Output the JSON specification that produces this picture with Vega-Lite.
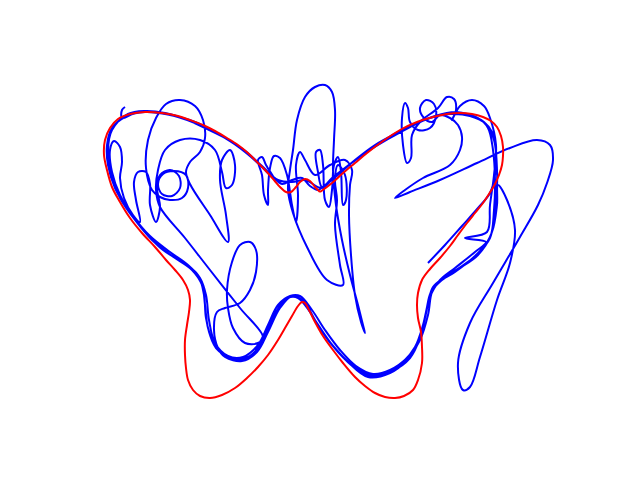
{
  "$schema": "https://vega.github.io/schema/vega-lite/v6.json",
  "description": "Butterfly-shaped target curve (red) and a tangled trajectory (blue), axes hidden",
  "width": 640,
  "height": 480,
  "padding": 0,
  "autosize": {"type": "fit", "contains": "padding"},
  "background": "white",
  "config": {"view": {"stroke": null}},
  "datasets": {
    "blue": [
      {"x":428,"y":263},{"x":445,"y":245},{"x":462,"y":226},{"x":478,"y":208},{"x":490,"y":193},{"x":495,"y":175},{"x":496,"y":150},{"x":492,"y":132},{"x":484,"y":122},{"x":470,"y":115},{"x":455,"y":112},{"x":435,"y":116},{"x":415,"y":124},{"x":395,"y":134},{"x":375,"y":145},{"x":355,"y":160},{"x":338,"y":175},{"x":325,"y":185},{"x":318,"y":190},{"x":310,"y":186},{"x":302,"y":178},{"x":292,"y":180},{"x":282,"y":184},{"x":272,"y":176},{"x":258,"y":163},{"x":240,"y":148},{"x":218,"y":134},{"x":195,"y":122},{"x":170,"y":115},{"x":145,"y":112},{"x":125,"y":117},{"x":112,"y":128},{"x":107,"y":145},{"x":108,"y":165},{"x":115,"y":188},{"x":128,"y":210},{"x":145,"y":232},{"x":163,"y":250},{"x":182,"y":262},{"x":198,"y":275},{"x":204,"y":295},{"x":206,"y":318},{"x":212,"y":340},{"x":225,"y":355},{"x":240,"y":360},{"x":255,"y":352},{"x":266,"y":335},{"x":276,"y":312},{"x":288,"y":298},{"x":298,"y":298},{"x":310,"y":312},{"x":322,"y":332},{"x":338,"y":352},{"x":355,"y":368},{"x":372,"y":376},{"x":388,"y":372},{"x":403,"y":362},{"x":415,"y":347},{"x":423,"y":325},{"x":428,"y":303},{"x":433,"y":287},{"x":445,"y":277},{"x":462,"y":266},{"x":480,"y":252},{"x":492,"y":232},{"x":497,"y":205},{"x":498,"y":185},
      {"x":507,"y":200},{"x":515,"y":230},{"x":510,"y":263},{"x":497,"y":300},{"x":480,"y":357},{"x":470,"y":387},{"x":463,"y":390},{"x":458,"y":363},{"x":470,"y":323},{"x":493,"y":283},{"x":520,"y":237},{"x":538,"y":205},{"x":547,"y":183},{"x":553,"y":160},{"x":550,"y":145},{"x":537,"y":140},{"x":510,"y":148},{"x":477,"y":163},{"x":440,"y":180},{"x":410,"y":192},{"x":395,"y":198},{"x":405,"y":190},{"x":423,"y":178},{"x":450,"y":165},{"x":460,"y":150},{"x":462,"y":137},{"x":458,"y":125},{"x":450,"y":118},{"x":440,"y":115},
      {"x":432,"y":122},{"x":424,"y":118},{"x":420,"y":108},{"x":426,"y":100},{"x":434,"y":104},{"x":436,"y":116},{"x":430,"y":128},{"x":418,"y":130},{"x":410,"y":122},{"x":408,"y":108},{"x":405,"y":103},{"x":402,"y":118},{"x":403,"y":145},{"x":407,"y":163},{"x":411,"y":158},{"x":412,"y":135},{"x":420,"y":122},{"x":438,"y":108},{"x":447,"y":97},{"x":454,"y":99},{"x":456,"y":110},{"x":452,"y":120},{"x":460,"y":106},{"x":472,"y":100},{"x":484,"y":106},{"x":490,"y":118},
      {"x":496,"y":145},{"x":494,"y":175},{"x":490,"y":205},{"x":487,"y":232},{"x":465,"y":238},{"x":486,"y":242},{"x":475,"y":252},{"x":455,"y":268},{"x":440,"y":280},{"x":432,"y":292},{"x":428,"y":315},{"x":420,"y":340},{"x":408,"y":357},{"x":390,"y":370},{"x":373,"y":374},{"x":356,"y":366},{"x":340,"y":350},{"x":325,"y":330},{"x":312,"y":310},{"x":300,"y":296},{"x":290,"y":296},{"x":278,"y":305},{"x":268,"y":325},{"x":258,"y":345},{"x":243,"y":357},{"x":228,"y":356},{"x":215,"y":343},{"x":209,"y":320},{"x":206,"y":295},{"x":200,"y":278},{"x":188,"y":265},{"x":170,"y":252},{"x":150,"y":236},{"x":133,"y":216},{"x":120,"y":195},{"x":112,"y":172},{"x":110,"y":150},
      {"x":114,"y":141},{"x":120,"y":147},{"x":122,"y":162},{"x":120,"y":178},{"x":124,"y":198},{"x":133,"y":215},{"x":140,"y":222},{"x":136,"y":200},{"x":134,"y":182},{"x":138,"y":172},{"x":146,"y":172},{"x":150,"y":184},{"x":150,"y":205},{"x":156,"y":222},{"x":160,"y":207},{"x":157,"y":188},{"x":160,"y":175},{"x":170,"y":170},{"x":179,"y":176},{"x":180,"y":188},{"x":172,"y":196},{"x":162,"y":194},{"x":158,"y":184},{"x":163,"y":174},{"x":174,"y":171},{"x":186,"y":175},{"x":188,"y":188},{"x":182,"y":198},{"x":170,"y":200},{"x":160,"y":197},{"x":152,"y":190},{"x":146,"y":168},{"x":148,"y":140},{"x":156,"y":118},{"x":166,"y":104},{"x":180,"y":100},{"x":195,"y":106},{"x":203,"y":120},{"x":205,"y":138},{"x":200,"y":152},{"x":190,"y":162},{"x":186,"y":172},{"x":190,"y":184},{"x":210,"y":215},{"x":228,"y":242},{"x":226,"y":215},{"x":220,"y":180},{"x":222,"y":160},{"x":230,"y":150},{"x":235,"y":165},{"x":232,"y":185},{"x":226,"y":188},{"x":222,"y":172},{"x":215,"y":150},{"x":200,"y":140},{"x":180,"y":140},{"x":165,"y":150},{"x":158,"y":170},{"x":156,"y":190},{"x":160,"y":207},{"x":185,"y":238},{"x":210,"y":270},{"x":240,"y":308},{"x":263,"y":337},{"x":258,"y":343},{"x":245,"y":343},{"x":233,"y":328},{"x":228,"y":308},{"x":227,"y":290},{"x":232,"y":262},{"x":240,"y":245},{"x":250,"y":242},{"x":256,"y":250},{"x":256,"y":272},{"x":250,"y":290},{"x":240,"y":303},{"x":225,"y":308},{"x":217,"y":312},{"x":214,"y":330},{"x":218,"y":348},
      {"x":225,"y":357},{"x":242,"y":361},{"x":257,"y":352},{"x":268,"y":332},{"x":280,"y":308},{"x":292,"y":296},{"x":302,"y":300},{"x":315,"y":320},{"x":330,"y":342},{"x":348,"y":362},{"x":368,"y":377},{"x":390,"y":373},{"x":407,"y":360},{"x":418,"y":343},{"x":425,"y":318},{"x":430,"y":297},{"x":438,"y":283},{"x":455,"y":272},{"x":475,"y":256},{"x":490,"y":238},{"x":494,"y":210},{"x":495,"y":180},{"x":493,"y":150},{"x":488,"y":128},{"x":478,"y":118},{"x":460,"y":113},{"x":440,"y":115},{"x":420,"y":122},{"x":400,"y":131},{"x":380,"y":143},{"x":360,"y":157},{"x":345,"y":168},{"x":332,"y":178},{"x":322,"y":187},
      {"x":318,"y":172},{"x":316,"y":152},{"x":320,"y":150},{"x":323,"y":165},{"x":325,"y":200},{"x":329,"y":207},{"x":332,"y":190},{"x":334,"y":165},{"x":338,"y":157},{"x":341,"y":172},{"x":343,"y":205},{"x":346,"y":200},{"x":345,"y":175},{"x":338,"y":165},{"x":335,"y":180},{"x":337,"y":200},{"x":335,"y":225},{"x":340,"y":265},{"x":343,"y":285},{"x":327,"y":280},{"x":307,"y":247},{"x":293,"y":213},{"x":288,"y":190},{"x":290,"y":170},{"x":293,"y":150},{"x":297,"y":120},{"x":305,"y":97},{"x":315,"y":87},{"x":325,"y":85},{"x":332,"y":92},{"x":335,"y":110},{"x":334,"y":140},{"x":333,"y":170},{"x":336,"y":205},{"x":342,"y":240},{"x":350,"y":275},{"x":358,"y":305},{"x":363,"y":325},{"x":365,"y":333},{"x":361,"y":322},{"x":355,"y":295},{"x":351,"y":255},{"x":349,"y":215},{"x":350,"y":185},{"x":352,"y":170},{"x":345,"y":160},{"x":330,"y":165},{"x":315,"y":175},{"x":305,"y":160},{"x":300,"y":152},{"x":296,"y":165},{"x":298,"y":195},{"x":296,"y":222},{"x":292,"y":205},{"x":287,"y":175},{"x":280,"y":158},{"x":274,"y":156},{"x":270,"y":168},{"x":268,"y":190},{"x":268,"y":205},{"x":264,"y":195},{"x":262,"y":175},{"x":258,"y":160},{"x":262,"y":157},{"x":266,"y":165},{"x":275,"y":180},{"x":262,"y":167},{"x":245,"y":152},{"x":225,"y":138},{"x":205,"y":128},{"x":185,"y":119},{"x":165,"y":113},{"x":145,"y":111},{"x":128,"y":114},
      {"x":112,"y":130},{"x":108,"y":150},{"x":111,"y":175},{"x":120,"y":198},{"x":135,"y":220},{"x":152,"y":240},{"x":172,"y":256},{"x":192,"y":270},{"x":202,"y":285},{"x":205,"y":305},{"x":208,"y":328},{"x":216,"y":348},{"x":232,"y":358},{"x":248,"y":357},{"x":261,"y":344},{"x":271,"y":322},{"x":283,"y":302},{"x":295,"y":296},{"x":306,"y":305},{"x":318,"y":325},{"x":334,"y":347},{"x":352,"y":365},{"x":370,"y":375},{"x":392,"y":371},{"x":410,"y":358},{"x":420,"y":338},{"x":426,"y":312},{"x":431,"y":292},{"x":442,"y":280},{"x":460,"y":268},{"x":478,"y":255},{"x":491,"y":235},{"x":496,"y":205},{"x":497,"y":170},{"x":494,"y":140},{"x":486,"y":124},{"x":470,"y":116},{"x":450,"y":114},{"x":430,"y":118},{"x":410,"y":127},{"x":390,"y":138},{"x":370,"y":150},{"x":350,"y":164},{"x":335,"y":176},{"x":322,"y":188},{"x":305,"y":180},{"x":292,"y":182},{"x":278,"y":180},{"x":262,"y":166},{"x":244,"y":150},{"x":222,"y":136},{"x":200,"y":125},{"x":178,"y":117},{"x":155,"y":112},{"x":135,"y":113},{"x":122,"y":118},{"x":122,"y":110},{"x":125,"y":107}
    ],
    "red": [
      {"x":320,"y":192},{"x":332,"y":183},{"x":343,"y":173},{"x":355,"y":163},{"x":367,"y":153},{"x":383,"y":141},{"x":400,"y":130},{"x":417,"y":122},{"x":433,"y":117},{"x":447,"y":114},{"x":460,"y":113},{"x":472,"y":114},{"x":483,"y":117},{"x":491,"y":121},{"x":497,"y":127},{"x":501,"y":136},{"x":503,"y":147},{"x":503,"y":156},{"x":502,"y":165},{"x":499,"y":175},{"x":495,"y":184},{"x":489,"y":194},{"x":483,"y":203},{"x":475,"y":213},{"x":467,"y":223},{"x":458,"y":235},{"x":450,"y":246},{"x":440,"y":258},{"x":430,"y":269},{"x":422,"y":280},{"x":418,"y":293},{"x":417,"y":305},{"x":418,"y":318},{"x":421,"y":332},{"x":422,"y":347},{"x":422,"y":363},{"x":418,"y":380},{"x":413,"y":390},{"x":404,"y":396},{"x":395,"y":398},{"x":385,"y":397},{"x":375,"y":393},{"x":365,"y":386},{"x":355,"y":377},{"x":343,"y":363},{"x":333,"y":350},{"x":323,"y":336},{"x":315,"y":322},{"x":309,"y":310},{"x":305,"y":303},{"x":302,"y":302},{"x":298,"y":306},{"x":292,"y":316},{"x":285,"y":328},{"x":278,"y":340},{"x":268,"y":355},{"x":258,"y":367},{"x":247,"y":378},{"x":235,"y":388},{"x":222,"y":395},{"x":210,"y":398},{"x":200,"y":396},{"x":193,"y":390},{"x":188,"y":380},{"x":186,"y":368},{"x":185,"y":355},{"x":185,"y":340},{"x":187,"y":325},{"x":189,"y":312},{"x":190,"y":300},{"x":188,"y":290},{"x":183,"y":280},{"x":175,"y":270},{"x":166,"y":260},{"x":155,"y":247},{"x":142,"y":233},{"x":130,"y":218},{"x":120,"y":202},{"x":112,"y":187},{"x":107,"y":170},{"x":104,"y":155},{"x":105,"y":140},{"x":110,"y":128},{"x":118,"y":119},{"x":130,"y":114},{"x":145,"y":112},{"x":162,"y":113},{"x":178,"y":116},{"x":190,"y":120},{"x":203,"y":125},{"x":215,"y":131},{"x":227,"y":138},{"x":238,"y":145},{"x":248,"y":153},{"x":257,"y":162},{"x":266,"y":171},{"x":274,"y":180},{"x":280,"y":187},{"x":286,"y":192},{"x":291,"y":192},{"x":296,"y":187},{"x":300,"y":182},{"x":305,"y":179},{"x":310,"y":181},{"x":315,"y":187},{"x":320,"y":192}
    ]
  },
  "encoding": {
    "x": {"field": "x", "type": "quantitative", "scale": {"domain": [0, 640], "nice": false, "zero": false}, "axis": null},
    "y": {"field": "y", "type": "quantitative", "scale": {"domain": [0, 480], "nice": false, "zero": false, "reverse": true}, "axis": null},
    "order": {"field": "i", "type": "quantitative"}
  },
  "layer": [
    {
      "data": {"name": "blue"},
      "transform": [{"window": [{"op": "row_number", "as": "i"}]}],
      "mark": {"type": "line", "color": "#0000ff", "strokeWidth": 2, "strokeJoin": "round", "interpolate": "catmull-rom", "clip": false}
    },
    {
      "data": {"name": "red"},
      "transform": [{"window": [{"op": "row_number", "as": "i"}]}],
      "mark": {"type": "line", "color": "#ff0000", "strokeWidth": 2, "strokeJoin": "round", "interpolate": "catmull-rom", "clip": false}
    }
  ]
}
